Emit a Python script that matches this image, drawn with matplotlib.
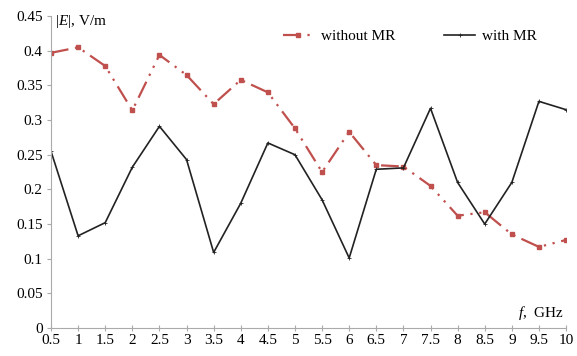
import matplotlib
matplotlib.use("Agg")
import matplotlib.pyplot as plt

freq_labels = ["0.5", "1", "1.5", "2", "2.5", "3", "3.5", "4", "4.5", "5",
               "5.5", "6", "6.5", "7", "7.5", "8", "8.5", "9", "9.5", "10"]
without_mr = [0.397, 0.405, 0.378, 0.314, 0.394, 0.365, 0.323, 0.358, 0.340, 0.288,
              0.225, 0.283, 0.235, 0.233, 0.205, 0.162, 0.167, 0.135, 0.117, 0.127]
with_mr = [0.255, 0.133, 0.152, 0.232, 0.291, 0.243, 0.109, 0.180, 0.267, 0.250,
           0.185, 0.101, 0.229, 0.231, 0.317, 0.210, 0.150, 0.210, 0.327, 0.315]
y_ticks = [0, 0.05, 0.1, 0.15, 0.2, 0.25, 0.3, 0.35, 0.4, 0.45]
y_tick_labels = ["0", "0.05", "0.1", "0.15", "0.2", "0.25", "0.3", "0.35", "0.4", "0.45"]

plt.rcParams['font.family'] = ['Liberation Serif', 'DejaVu Serif']
plt.rcParams['mathtext.fontset'] = 'custom'
plt.rcParams['mathtext.rm'] = 'Liberation Serif'
plt.rcParams['mathtext.it'] = 'Liberation Serif:italic'

fig = plt.figure(figsize=(5.77, 3.56), dpi=100)
ax = fig.add_axes([0.0884, 0.0787, 0.8926, 0.876])

x = list(range(len(freq_labels)))
red = "#c0504d"
ax.plot(x, without_mr, color=red, linestyle=(0, (8, 3, 1, 3, 1, 3)), linewidth=1.6,
        marker='s', markersize=3, markerfacecolor=red, markeredgecolor=red,
        label="without MR")
ax.plot(x, with_mr, color="#222222", linestyle='-', linewidth=1.2,
        marker='+', markersize=3, markeredgewidth=0.6, label="with MR")

ax.set_xlim(0, len(freq_labels) - 1)
ax.set_ylim(0, 0.45)
ax.set_xticks(x)
ax.set_xticklabels(freq_labels)
ax.set_yticks(y_ticks)
ax.set_yticklabels(y_tick_labels)

for s in ['top', 'right']:
    ax.spines[s].set_visible(False)
for s in ['left', 'bottom']:
    ax.spines[s].set_color("#aaaaaa")
    ax.spines[s].set_linewidth(0.8)

ax.tick_params(axis='x', direction='inout', length=4, color="#aaaaaa", labelsize=11, pad=2)
ax.tick_params(axis='y', direction='out', length=3, color="#aaaaaa", labelsize=11, pad=3)

ax.text(0.008, 1.01, r"|$\it{E}$|, V/m", transform=ax.transAxes, ha='left', va='top', fontsize=11)
ax.text(0.995, 0.02, r"$\it{f}$,  GHz", transform=ax.transAxes, ha='right', va='bottom', fontsize=11)

leg = ax.legend(loc='center left', bbox_to_anchor=(0.45, 0.935), ncol=2, frameon=False,
                fontsize=11, columnspacing=3.2, handlelength=2.0, handletextpad=0.5,
                borderaxespad=0, borderpad=0)

fig.savefig("out.png", dpi=100)
